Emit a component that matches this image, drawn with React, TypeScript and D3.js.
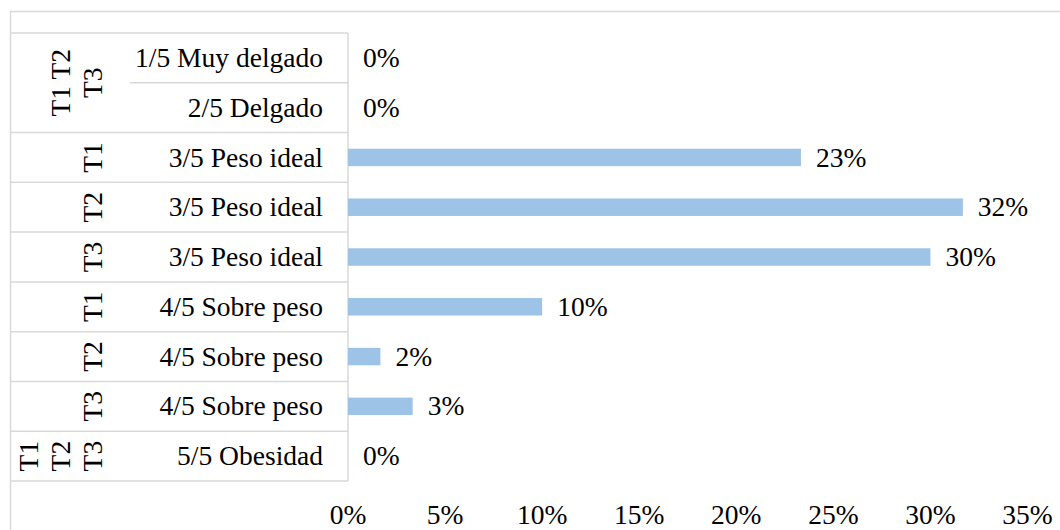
import React from "react";
import * as d3 from "d3";

const categories = [
  "1/5 Muy delgado",
  "2/5 Delgado",
  "3/5 Peso ideal",
  "3/5 Peso ideal",
  "3/5 Peso ideal",
  "4/5 Sobre peso",
  "4/5 Sobre peso",
  "4/5 Sobre peso",
  "5/5 Obesidad",
];
const values = [0, 0, 0.2333, 0.3167, 0.3, 0.1, 0.0167, 0.0333, 0];
const groupLabels = [["T1 T2", "T3"], ["T1"], ["T2"], ["T3"], ["T1"], ["T2"], ["T3"], ["T1", "T2", "T3"]];
const groupSpans = [2, 1, 1, 1, 1, 1, 1, 1];
const xTicks = [0, 0.05, 0.1, 0.15, 0.2, 0.25, 0.3, 0.35];

const W = 1060;
const H = 530;
const FONT = "Liberation Serif";
const FS = 27.5;
const GRID = "#d9d9d9";
const BAR = "#9dc3e6";
const textStyle: React.CSSProperties = { fontFamily: FONT, fontSize: FS, fill: "#000" };

export default function App() {
  const top = 33;
  const bottom = 481;
  const left = 10;
  const axisX = 348;
  const innerColX = 130;

  const idx = categories.map((_, i) => i);
  const y = d3.scaleBand<number>().domain(idx).range([top, bottom]).paddingInner(0).paddingOuter(0);
  const x = d3.scaleLinear().domain([0, 0.35]).range([axisX, 1027.5]);
  const bw = y.bandwidth();
  const barH = bw / 2.85;
  const fmt = d3.format(".0%");

  const groups: { start: number; span: number; lines: string[] }[] = [];
  let acc = 0;
  groupSpans.forEach((s, g) => {
    groups.push({ start: acc, span: s, lines: groupLabels[g] });
    acc += s;
  });

  const lineGap = 32;
  const lastBaseline = 102;

  return (
    <svg
      width={W}
      height={H}
      style={{ position: "absolute", left: 0, top: 0, background: "#fff" }}
    >
      <rect x={0} y={0} width={W} height={H} fill="#fff" />
      <rect x={10.5} y={11.5} width={1200} height={700} fill="none" stroke={GRID} strokeWidth={1.5} />

      {idx.map((i) => {
        const yy = y(i)!;
        const isGroupStart = groups.some((g) => g.start === i);
        return (
          <line
            key={"h" + i}
            x1={isGroupStart ? left : innerColX}
            x2={axisX}
            y1={yy}
            y2={yy}
            stroke={GRID}
            strokeWidth={1.5}
          />
        );
      })}
      <line x1={left} x2={axisX} y1={bottom} y2={bottom} stroke={GRID} strokeWidth={1.5} />
      <line x1={axisX} x2={axisX} y1={top} y2={bottom} stroke={GRID} strokeWidth={1.5} />

      {values.map((v, i) => (
        <rect
          key={"b" + i}
          x={x(0)}
          y={y(i)! + bw / 2 - barH / 2}
          width={x(v) - x(0)}
          height={barH}
          fill={BAR}
        />
      ))}

      {values.map((v, i) => (
        <text key={"l" + i} x={x(v) + 15} y={y(i)! + bw / 2} dy="0.33em" style={textStyle}>
          {fmt(v)}
        </text>
      ))}

      {categories.map((c, i) => (
        <text key={"c" + i} x={323} y={y(i)! + bw / 2} dy="0.33em" textAnchor="end" style={textStyle}>
          {c}
        </text>
      ))}

      {groups.map((g, gi) => {
        const cy = y(g.start)! + (g.span * bw) / 2;
        const n = g.lines.length;
        return (
          <g key={"g" + gi}>
            {g.lines.map((ln, li) => {
              const bx = lastBaseline - (n - 1 - li) * lineGap;
              return (
                <text
                  key={li}
                  transform={`translate(${bx},${cy}) rotate(-90)`}
                  textAnchor="middle"
                  style={textStyle}
                >
                  {ln}
                </text>
              );
            })}
          </g>
        );
      })}

      {xTicks.map((t) => (
        <text key={"t" + t} x={x(t)} y={524} textAnchor="middle" style={textStyle}>
          {fmt(t)}
        </text>
      ))}
    </svg>
  );
}
